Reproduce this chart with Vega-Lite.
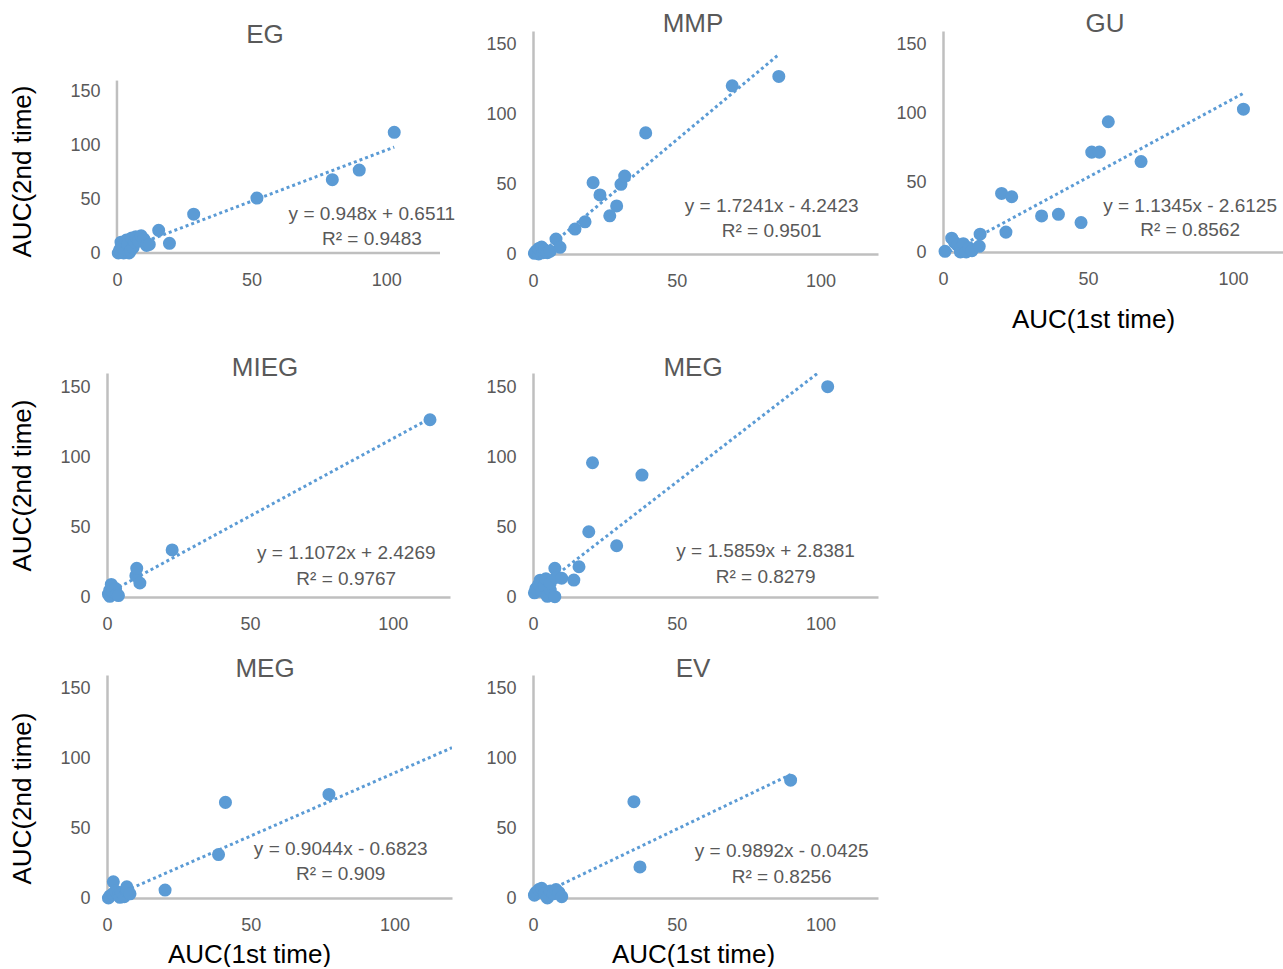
{
  "$schema": "https://vega.github.io/schema/vega-lite/v6.json",
  "background": "white",
  "autosize": {"type": "pad"},
  "padding": {"left": 8, "top": 11, "right": 0, "bottom": 0},
  "config": {
    "view": {"stroke": null},
    "axis": {"grid": false, "ticks": false, "domainColor": "#BFBFBF", "domainWidth": 2.5, "labelColor": "#595959", "labelFont": "Liberation Sans", "labelFontSize": 18, "labelFlush": false, "labelOverlap": false, "titleFont": "Liberation Sans", "titleFontSize": 26, "titleFontWeight": "normal", "titleColor": "#000000"},
    "axisX": {"labelPadding": 18},
    "axisY": {"labelPadding": 17},
    "title": {"font": "Liberation Sans", "fontSize": 26, "fontWeight": "normal", "color": "#595959", "anchor": "middle", "frame": "group", "baseline": "middle"}
  },
  "datasets": {
    "points": [
      {"p":"EG","x":0.5,"y":0},{"p":"EG","x":1,"y":3},{"p":"EG","x":1.5,"y":10},{"p":"EG","x":2,"y":6},{"p":"EG","x":2.5,"y":0},{"p":"EG","x":3,"y":1},{"p":"EG","x":3.5,"y":12},{"p":"EG","x":4,"y":8},{"p":"EG","x":4.5,"y":0},{"p":"EG","x":5,"y":2},{"p":"EG","x":5.5,"y":14},{"p":"EG","x":6,"y":5},{"p":"EG","x":6.5,"y":10},{"p":"EG","x":7,"y":15},{"p":"EG","x":8,"y":11},{"p":"EG","x":9,"y":16},{"p":"EG","x":10,"y":13},{"p":"EG","x":11,"y":7},{"p":"EG","x":12,"y":8},{"p":"EG","x":15.5,"y":21},{"p":"EG","x":19.5,"y":9},{"p":"EG","x":28.5,"y":36},{"p":"EG","x":52,"y":51},{"p":"EG","x":80,"y":68},{"p":"EG","x":90,"y":77},{"p":"EG","x":103,"y":112},
      {"p":"MMP","x":0.5,"y":0.5},{"p":"MMP","x":1,"y":2},{"p":"MMP","x":2,"y":0},{"p":"MMP","x":2,"y":4},{"p":"MMP","x":3,"y":5},{"p":"MMP","x":3.5,"y":1},{"p":"MMP","x":4,"y":3},{"p":"MMP","x":5,"y":1},{"p":"MMP","x":6,"y":2},{"p":"MMP","x":8,"y":10.7},{"p":"MMP","x":9.4,"y":4.8},{"p":"MMP","x":14.6,"y":17.9},{"p":"MMP","x":18.1,"y":23.1},{"p":"MMP","x":20.9,"y":51.2},{"p":"MMP","x":23.3,"y":42.4},{"p":"MMP","x":26.7,"y":27.4},{"p":"MMP","x":29.1,"y":34.5},{"p":"MMP","x":30.6,"y":50},{"p":"MMP","x":31.9,"y":55.9},{"p":"MMP","x":39.2,"y":86.9},{"p":"MMP","x":69.3,"y":120.7},{"p":"MMP","x":85.5,"y":127.4},
      {"p":"GU","x":0.7,"y":0.5},{"p":"GU","x":3,"y":10},{"p":"GU","x":4,"y":7},{"p":"GU","x":5,"y":5},{"p":"GU","x":6,"y":2},{"p":"GU","x":6,"y":0},{"p":"GU","x":7,"y":6},{"p":"GU","x":8,"y":0},{"p":"GU","x":9,"y":3},{"p":"GU","x":10,"y":1},{"p":"GU","x":12.5,"y":4.1},{"p":"GU","x":12.8,"y":12.9},{"p":"GU","x":20.2,"y":42.4},{"p":"GU","x":21.7,"y":14.4},{"p":"GU","x":23.7,"y":40},{"p":"GU","x":34,"y":26.1},{"p":"GU","x":39.8,"y":27.3},{"p":"GU","x":47.6,"y":21.3},{"p":"GU","x":51.3,"y":72.3},{"p":"GU","x":53.9,"y":72.3},{"p":"GU","x":57,"y":94.3},{"p":"GU","x":68.3,"y":65.5},{"p":"GU","x":103.6,"y":103.4},
      {"p":"MIEG","x":0.5,"y":2},{"p":"MIEG","x":1,"y":0.5},{"p":"MIEG","x":1,"y":5},{"p":"MIEG","x":1.5,"y":9},{"p":"MIEG","x":2,"y":4},{"p":"MIEG","x":3,"y":6},{"p":"MIEG","x":3.5,"y":2},{"p":"MIEG","x":4,"y":1},{"p":"MIEG","x":10.1,"y":15.2},{"p":"MIEG","x":10.4,"y":20.5},{"p":"MIEG","x":11.5,"y":10},{"p":"MIEG","x":22.8,"y":33.6},{"p":"MIEG","x":113,"y":126.6},
      {"p":"MEG_a","x":0.5,"y":3},{"p":"MEG_a","x":1,"y":6},{"p":"MEG_a","x":2,"y":9},{"p":"MEG_a","x":2.5,"y":12},{"p":"MEG_a","x":3,"y":4},{"p":"MEG_a","x":3.5,"y":12},{"p":"MEG_a","x":4,"y":8},{"p":"MEG_a","x":4.5,"y":13},{"p":"MEG_a","x":5,"y":0.5},{"p":"MEG_a","x":5,"y":1},{"p":"MEG_a","x":6,"y":5},{"p":"MEG_a","x":6,"y":10},{"p":"MEG_a","x":7.6,"y":0.2},{"p":"MEG_a","x":7.6,"y":20.5},{"p":"MEG_a","x":8,"y":14},{"p":"MEG_a","x":10,"y":13.4},{"p":"MEG_a","x":14.2,"y":12.1},{"p":"MEG_a","x":16,"y":21.6},{"p":"MEG_a","x":19.4,"y":46.6},{"p":"MEG_a","x":20.7,"y":95.9},{"p":"MEG_a","x":29.1,"y":36.6},{"p":"MEG_a","x":37.9,"y":87.1},{"p":"MEG_a","x":102.5,"y":150.2},
      {"p":"MEG_b","x":0.5,"y":0},{"p":"MEG_b","x":1,"y":1.5},{"p":"MEG_b","x":2,"y":3},{"p":"MEG_b","x":2.2,"y":11.6},{"p":"MEG_b","x":3,"y":5},{"p":"MEG_b","x":4,"y":2},{"p":"MEG_b","x":4.5,"y":0.5},{"p":"MEG_b","x":5,"y":4},{"p":"MEG_b","x":6,"y":1},{"p":"MEG_b","x":6.9,"y":4.5},{"p":"MEG_b","x":6.9,"y":8},{"p":"MEG_b","x":7,"y":6},{"p":"MEG_b","x":8,"y":3},{"p":"MEG_b","x":20.2,"y":5.7},{"p":"MEG_b","x":38.8,"y":31.2},{"p":"MEG_b","x":41.2,"y":68.6},{"p":"MEG_b","x":77.2,"y":74.3},
      {"p":"EV","x":0.5,"y":2},{"p":"EV","x":1,"y":4},{"p":"EV","x":2,"y":6},{"p":"EV","x":3,"y":7},{"p":"EV","x":4,"y":3},{"p":"EV","x":5,"y":1},{"p":"EV","x":5,"y":0},{"p":"EV","x":6,"y":5},{"p":"EV","x":7,"y":3},{"p":"EV","x":8,"y":6},{"p":"EV","x":9,"y":4},{"p":"EV","x":10,"y":1},{"p":"EV","x":35.1,"y":69.1},{"p":"EV","x":37.2,"y":22.3},{"p":"EV","x":89.6,"y":84.5}
    ],
    "lines": [
      {"p":"EG","x":0.5,"y":1.13},{"p":"EG","x":103,"y":98.29},
      {"p":"MMP","x":2.5,"y":0.07},{"p":"MMP","x":85.5,"y":143.17},
      {"p":"GU","x":2.3,"y":0},{"p":"GU","x":103.6,"y":114.92},
      {"p":"MIEG","x":0.5,"y":2.98},{"p":"MIEG","x":113,"y":127.54},
      {"p":"MEG_a","x":0.5,"y":3.63},{"p":"MEG_a","x":99.1,"y":160},
      {"p":"MEG_b","x":0.75,"y":0},{"p":"MEG_b","x":120,"y":107.85},
      {"p":"EV","x":0.5,"y":0.45},{"p":"EV","x":89.6,"y":88.59}
    ],
    "labels": [
      {"p":"EG","x":94.7,"y":36.2,"t":"y = 0.948x + 0.6511"},{"p":"EG","x":94.7,"y":13,"t":"R² = 0.9483"},
      {"p":"MMP","x":83,"y":34.3,"t":"y = 1.7241x - 4.2423"},{"p":"MMP","x":83,"y":16.4,"t":"R² = 0.9501"},
      {"p":"GU","x":85.2,"y":33,"t":"y = 1.1345x - 2.6125"},{"p":"GU","x":85.2,"y":15.8,"t":"R² = 0.8562"},
      {"p":"MIEG","x":83.7,"y":31.4,"t":"y = 1.1072x + 2.4269"},{"p":"MIEG","x":83.7,"y":12.9,"t":"R² = 0.9767"},
      {"p":"MEG_a","x":80.9,"y":32.9,"t":"y = 1.5859x + 2.8381"},{"p":"MEG_a","x":80.9,"y":14.3,"t":"R² = 0.8279"},
      {"p":"MEG_b","x":81.3,"y":35,"t":"y = 0.9044x - 0.6823"},{"p":"MEG_b","x":81.3,"y":17.1,"t":"R² = 0.909"},
      {"p":"EV","x":86.5,"y":33.7,"t":"y = 0.9892x - 0.0425"},{"p":"EV","x":86.5,"y":15.1,"t":"R² = 0.8256"}
    ],
    "axes": [
      {"p":"EG","x":0,"y":0,"x2":0,"y2":160},{"p":"EG","x":0,"y":0,"x2":120,"y2":0}
    ]
  },
  "vconcat": [
    {
      "hconcat": [
        {
          "width": 333, "height": 222,
          "title": {"text": "EG", "dx": -8.5, "offset": -17},
          "encoding": {
            "x": {"field": "x", "type": "quantitative", "scale": {"domain": [-3.7, 120], "nice": false, "zero": false}, "axis": {"values": [0, 50, 100], "title": null, "domain": false}},
            "y": {"field": "y", "type": "quantitative", "scale": {"domain": [0, 206], "nice": false}, "axis": {"values": [0, 50, 100, 150], "domain": false, "labelPadding": 7, "title": "AUC(2nd time)", "titleX": -85, "titleY": 140, "titleBaseline": "middle", "titleAlign": "center"}}
          },
          "layer": [
            {"data": {"name": "axes"}, "transform": [{"filter": "datum.p == 'EG'"}], "mark": {"type": "rule", "color": "#BFBFBF", "strokeWidth": 2.5}, "encoding": {"x2": {"field": "x2"}, "y2": {"field": "y2"}}},
            {"data": {"name": "lines"}, "transform": [{"filter": "datum.p == 'EG'"}], "mark": {"type": "line", "color": "#5B9BD5", "strokeWidth": 3, "strokeDash": [3, 3], "clip": true}, "encoding": {}},
            {"data": {"name": "points"}, "transform": [{"filter": "datum.p == 'EG'"}], "mark": {"type": "circle", "color": "#5B9BD5", "size": 170, "opacity": 1}},
            {"data": {"name": "labels"}, "transform": [{"filter": "datum.p == 'EG'"}], "mark": {"type": "text", "font": "Liberation Sans", "fontSize": 19, "color": "#595959"}, "encoding": {"text": {"field": "t"}}}
          ]
        },
        {
          "hconcat": [
            {
              "width": 345, "height": 223,
              "title": {"text": "MMP", "dx": -12.5, "offset": -6},
              "encoding": {
                "x": {"field": "x", "type": "quantitative", "scale": {"domain": [0, 120], "nice": false}, "axis": {"values": [0, 50, 100], "title": null}},
                "y": {"field": "y", "type": "quantitative", "scale": {"domain": [0, 160], "nice": false}, "axis": {"values": [0, 50, 100, 150], "title": null}}
              },
              "layer": [
                {"data": {"name": "lines"}, "transform": [{"filter": "datum.p == 'MMP'"}], "mark": {"type": "line", "color": "#5B9BD5", "strokeWidth": 3, "strokeDash": [3, 3], "clip": true}, "encoding": {}},
                {"data": {"name": "points"}, "transform": [{"filter": "datum.p == 'MMP'"}], "mark": {"type": "circle", "color": "#5B9BD5", "size": 170, "opacity": 1}},
                {"data": {"name": "labels"}, "transform": [{"filter": "datum.p == 'MMP'"}], "mark": {"type": "text", "font": "Liberation Sans", "fontSize": 19, "color": "#595959"}, "encoding": {"text": {"field": "t"}}}
              ]
            },
            {
              "width": 340, "height": 221,
              "title": {"text": "GU", "dx": -8, "offset": -6},
              "encoding": {
                "x": {"field": "x", "type": "quantitative", "scale": {"domain": [0, 117.24], "nice": false}, "axis": {"values": [0, 50, 100], "title": "AUC(1st time)", "titleX": 150, "titleY": 67, "titleBaseline": "middle", "titleAlign": "center"}},
                "y": {"field": "y", "type": "quantitative", "scale": {"domain": [0, 160], "nice": false}, "axis": {"values": [0, 50, 100, 150], "title": null}}
              },
              "layer": [
                {"data": {"name": "lines"}, "transform": [{"filter": "datum.p == 'GU'"}], "mark": {"type": "line", "color": "#5B9BD5", "strokeWidth": 3, "strokeDash": [3, 3], "clip": true}, "encoding": {}},
                {"data": {"name": "points"}, "transform": [{"filter": "datum.p == 'GU'"}], "mark": {"type": "circle", "color": "#5B9BD5", "size": 170, "opacity": 1}},
                {"data": {"name": "labels"}, "transform": [{"filter": "datum.p == 'GU'"}], "mark": {"type": "text", "font": "Liberation Sans", "fontSize": 19, "color": "#595959"}, "encoding": {"text": {"field": "t"}}}
              ]
            }
          ],
          "spacing": 65, "bounds": "flush"
        }
      ],
      "spacing": 93, "bounds": "flush"
    },
    {
      "hconcat": [
        {
          "width": 343, "height": 224,
          "title": {"text": "MIEG", "dx": -13.5, "offset": -8},
          "encoding": {
            "x": {"field": "x", "type": "quantitative", "scale": {"domain": [0, 120], "nice": false}, "axis": {"values": [0, 50, 100], "title": null}},
            "y": {"field": "y", "type": "quantitative", "scale": {"domain": [0, 160], "nice": false}, "axis": {"values": [0, 50, 100, 150], "title": "AUC(2nd time)", "titleX": -85, "titleY": 112, "titleBaseline": "middle", "titleAlign": "center"}}
          },
          "layer": [
            {"data": {"name": "lines"}, "transform": [{"filter": "datum.p == 'MIEG'"}], "mark": {"type": "line", "color": "#5B9BD5", "strokeWidth": 3, "strokeDash": [3, 3], "clip": true}, "encoding": {}},
            {"data": {"name": "points"}, "transform": [{"filter": "datum.p == 'MIEG'"}], "mark": {"type": "circle", "color": "#5B9BD5", "size": 170, "opacity": 1}},
            {"data": {"name": "labels"}, "transform": [{"filter": "datum.p == 'MIEG'"}], "mark": {"type": "text", "font": "Liberation Sans", "fontSize": 19, "color": "#595959"}, "encoding": {"text": {"field": "t"}}}
          ]
        },
        {
          "width": 345, "height": 224,
          "title": {"text": "MEG", "dx": -12.5, "offset": -8},
          "encoding": {
            "x": {"field": "x", "type": "quantitative", "scale": {"domain": [0, 120], "nice": false}, "axis": {"values": [0, 50, 100], "title": null}},
            "y": {"field": "y", "type": "quantitative", "scale": {"domain": [0, 160], "nice": false}, "axis": {"values": [0, 50, 100, 150], "title": null}}
          },
          "layer": [
            {"data": {"name": "lines"}, "transform": [{"filter": "datum.p == 'MEG_a'"}], "mark": {"type": "line", "color": "#5B9BD5", "strokeWidth": 3, "strokeDash": [3, 3], "clip": true}, "encoding": {}},
            {"data": {"name": "points"}, "transform": [{"filter": "datum.p == 'MEG_a'"}], "mark": {"type": "circle", "color": "#5B9BD5", "size": 170, "opacity": 1}},
            {"data": {"name": "labels"}, "transform": [{"filter": "datum.p == 'MEG_a'"}], "mark": {"type": "text", "font": "Liberation Sans", "fontSize": 19, "color": "#595959"}, "encoding": {"text": {"field": "t"}}}
          ]
        }
      ],
      "spacing": 83, "bounds": "flush"
    },
    {
      "hconcat": [
        {
          "width": 345, "height": 223,
          "title": {"text": "MEG", "dx": -14.5, "offset": -7},
          "encoding": {
            "x": {"field": "x", "type": "quantitative", "scale": {"domain": [0, 120], "nice": false}, "axis": {"values": [0, 50, 100], "title": "AUC(1st time)", "titleX": 142, "titleY": 56, "titleBaseline": "middle", "titleAlign": "center"}},
            "y": {"field": "y", "type": "quantitative", "scale": {"domain": [0, 160], "nice": false}, "axis": {"values": [0, 50, 100, 150], "title": "AUC(2nd time)", "titleX": -85, "titleY": 123, "titleBaseline": "middle", "titleAlign": "center"}}
          },
          "layer": [
            {"data": {"name": "lines"}, "transform": [{"filter": "datum.p == 'MEG_b'"}], "mark": {"type": "line", "color": "#5B9BD5", "strokeWidth": 3, "strokeDash": [3, 3], "clip": true}, "encoding": {}},
            {"data": {"name": "points"}, "transform": [{"filter": "datum.p == 'MEG_b'"}], "mark": {"type": "circle", "color": "#5B9BD5", "size": 170, "opacity": 1}},
            {"data": {"name": "labels"}, "transform": [{"filter": "datum.p == 'MEG_b'"}], "mark": {"type": "text", "font": "Liberation Sans", "fontSize": 19, "color": "#595959"}, "encoding": {"text": {"field": "t"}}}
          ]
        },
        {
          "width": 345, "height": 223,
          "title": {"text": "EV", "dx": -12.5, "offset": -7},
          "encoding": {
            "x": {"field": "x", "type": "quantitative", "scale": {"domain": [0, 120], "nice": false}, "axis": {"values": [0, 50, 100], "title": "AUC(1st time)", "titleX": 160, "titleY": 56, "titleBaseline": "middle", "titleAlign": "center"}},
            "y": {"field": "y", "type": "quantitative", "scale": {"domain": [0, 160], "nice": false}, "axis": {"values": [0, 50, 100, 150], "title": null}}
          },
          "layer": [
            {"data": {"name": "lines"}, "transform": [{"filter": "datum.p == 'EV'"}], "mark": {"type": "line", "color": "#5B9BD5", "strokeWidth": 3, "strokeDash": [3, 3], "clip": true}, "encoding": {}},
            {"data": {"name": "points"}, "transform": [{"filter": "datum.p == 'EV'"}], "mark": {"type": "circle", "color": "#5B9BD5", "size": 170, "opacity": 1}},
            {"data": {"name": "labels"}, "transform": [{"filter": "datum.p == 'EV'"}], "mark": {"type": "text", "font": "Liberation Sans", "fontSize": 19, "color": "#595959"}, "encoding": {"text": {"field": "t"}}}
          ]
        }
      ],
      "spacing": 81, "bounds": "flush"
    }
  ],
  "spacing": 23
}
